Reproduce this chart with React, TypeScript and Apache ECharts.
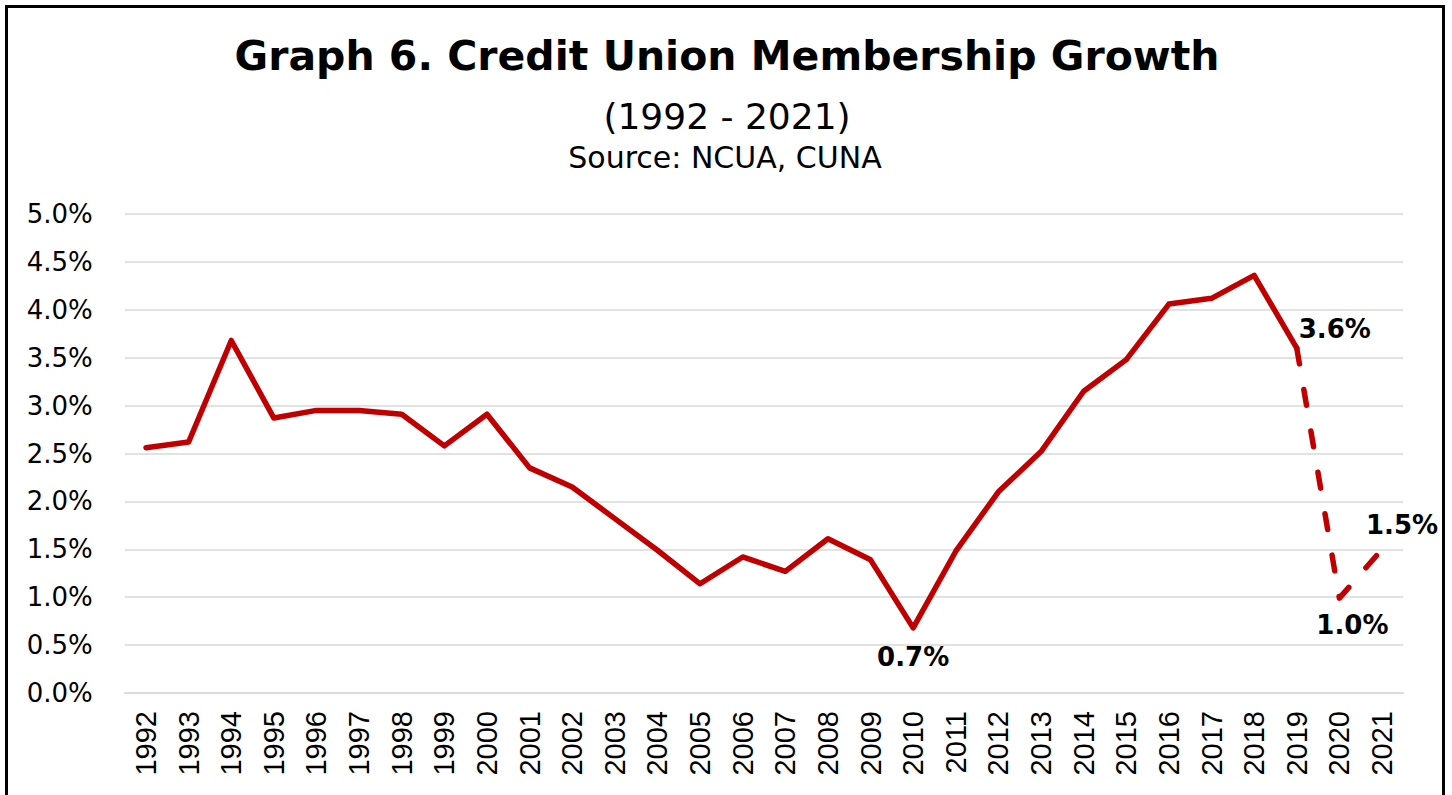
import React, { useEffect, useRef } from "react";
import * as echarts from "echarts";

const years = ["1992","1993","1994","1995","1996","1997","1998","1999","2000","2001","2002","2003","2004","2005","2006","2007","2008","2009","2010","2011","2012","2013","2014","2015","2016","2017","2018","2019","2020","2021"];
const growth = [2.56,2.62,3.68,2.87,2.95,2.95,2.91,2.58,2.91,2.35,2.15,1.82,1.49,1.14,1.42,1.27,1.61,1.39,0.68,1.48,2.10,2.52,3.15,3.48,4.06,4.12,4.36,3.60,0.99,1.50];
const lastActualIndex = 27; // 2019
const labelled: Record<number, { text: string; offset: [number, number] }> = {
  18: { text: "0.7%", offset: [0, 29] },
  27: { text: "3.6%", offset: [38, -19] },
  28: { text: "1.0%", offset: [13, 27] },
  29: { text: "1.5%", offset: [20, -24] },
};

const RED = "#c00000";
const FONT = "DejaVu Sans";

export default function App() {
  const ref = useRef<HTMLDivElement>(null);
  useEffect(() => {
    if (!ref.current) return;
    const chart = echarts.init(ref.current, undefined, { renderer: "svg" });
    const solid = growth.map((v, i) => (i <= lastActualIndex ? v : null));
    const dashed = growth.map((v, i) => (i >= lastActualIndex ? v : null));
    const labelData = growth.map((v, i) =>
      labelled[i]
        ? {
            value: v,
            label: {
              show: true,
              formatter: labelled[i].text,
              position: "inside",
              offset: labelled[i].offset,
              fontFamily: FONT,
              fontWeight: "bold",
              fontSize: 26,
              color: "#000",
            },
          }
        : { value: v, label: { show: false } }
    );
    chart.setOption({
      animation: false,
      backgroundColor: "#fff",
      grid: { left: 124.7, right: 1452 - 1403.3, top: 214, bottom: 102, containLabel: false },
      xAxis: {
        type: "category",
        data: years,
        boundaryGap: true,
        axisLine: { show: true, lineStyle: { color: "#d9d9d9", width: 1.5 } },
        axisTick: { show: false },
        axisLabel: {
          rotate: 90,
          margin: 18,
          fontFamily: "Liberation Sans",
          fontSize: 29,
          color: "#000",
          interval: 0,
        },
      },
      yAxis: {
        type: "value",
        min: 0,
        max: 5,
        interval: 0.5,
        axisLine: { show: false },
        axisTick: { show: false },
        splitLine: { lineStyle: { color: "#d9d9d9", width: 1.5 } },
        axisLabel: {
          margin: 32,
          fontFamily: FONT,
          fontSize: 26,
          color: "#000",
          formatter: (v: number) => v.toFixed(1) + "%",
        },
      },
      graphic: [
        {
          type: "rect",
          shape: { x: 6.5, y: 6.5, width: 1437, height: 820 },
          style: { fill: "none", stroke: "#000", lineWidth: 3 },
          silent: true,
        },
        {
          type: "text",
          x: 727,
          y: 56,
          style: {
            text: "Graph 6. Credit Union Membership Growth",
            fontFamily: FONT,
            fontWeight: "bold",
            fontSize: 41,
            fill: "#000",
            align: "center",
            verticalAlign: "middle",
          },
        },
        {
          type: "text",
          x: 727,
          y: 116,
          style: {
            text: "(1992 - 2021)",
            fontFamily: FONT,
            fontSize: 36,
            fill: "#000",
            align: "center",
            verticalAlign: "middle",
          },
        },
        {
          type: "text",
          x: 725,
          y: 157,
          style: {
            text: "Source: NCUA, CUNA",
            fontFamily: FONT,
            fontSize: 30,
            fill: "#000",
            align: "center",
            verticalAlign: "middle",
          },
        },
      ],
      series: [
        {
          type: "line",
          data: solid,
          symbol: "none",
          lineStyle: { color: RED, width: 5.5, cap: "round", join: "round" },
          connectNulls: false,
          z: 3,
        },
        {
          type: "line",
          data: dashed,
          symbol: "none",
          lineStyle: { color: RED, width: 5.5, type: [16, 26], cap: "round", join: "round" },
          connectNulls: false,
          z: 3,
        },
        {
          type: "line",
          data: labelData,
          symbol: "circle",
          symbolSize: 1,
          showAllSymbol: true,
          itemStyle: { color: "rgba(0,0,0,0)" },
          lineStyle: { width: 0, color: "rgba(0,0,0,0)" },
          z: 4,
        },
      ],
    });
    return () => chart.dispose();
  }, []);
  return (
    <div
      ref={ref}
      style={{ position: "fixed", left: 0, top: 0, width: 1452, height: 795 }}
    />
  );
}
